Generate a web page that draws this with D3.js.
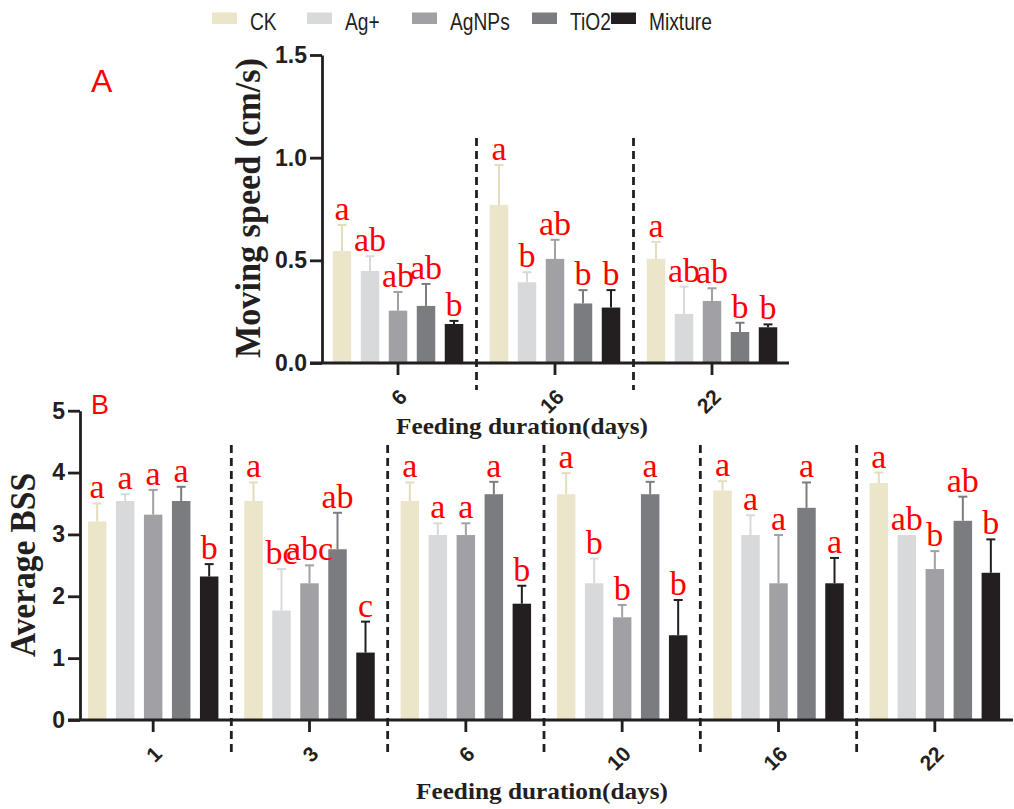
<!DOCTYPE html>
<html><head><meta charset="utf-8">
<script src="https://cdn.jsdelivr.net/npm/d3@7"></script>
<style>body{margin:0;background:#fff}svg{display:block}</style>
</head><body>
<svg id="chart" width="1014" height="809"></svg>
<script>
// ---------- DATA ----------
const series = ["CK", "Ag+", "AgNPs", "TiO2", "Mixture"];
const seriesColors = ["#ebe6c9", "#d8d9db", "#a1a1a5", "#7b7c80", "#231f20"];

// Panel A: moving speed (cm/s)
const speedDays = ["6", "16", "22"];
const speedMean = [
  [0.545, 0.448, 0.255, 0.278, 0.190],
  [0.770, 0.393, 0.507, 0.290, 0.270],
  [0.507, 0.239, 0.302, 0.151, 0.174]
];
const speedSD = [
  [0.127, 0.072, 0.091, 0.107, 0.015],
  [0.194, 0.049, 0.093, 0.065, 0.085],
  [0.083, 0.133, 0.062, 0.045, 0.014]
];
const speedLetters = [
  ["a", "ab", "ab", "ab", "b"],
  ["a", "b", "ab", "b", "b"],
  ["a", "ab", "ab", "b", "b"]
];
const speedTicks = [0, 0.5, 1.0, 1.5];

// Panel B: average BSS
const bssDays = ["1", "3", "6", "10", "16", "22"];
const bssMean = [
  [3.21, 3.54, 3.32, 3.54, 2.32],
  [3.54, 1.77, 2.21, 2.76, 1.09],
  [3.54, 2.99, 2.99, 3.65, 1.88],
  [3.65, 2.21, 1.66, 3.65, 1.37],
  [3.71, 2.99, 2.21, 3.43, 2.21],
  [3.83, 2.99, 2.44, 3.22, 2.38]
];
const bssSD = [
  [0.29, 0.11, 0.40, 0.23, 0.20],
  [0.30, 0.67, 0.29, 0.59, 0.50],
  [0.30, 0.19, 0.19, 0.20, 0.29],
  [0.34, 0.40, 0.20, 0.20, 0.57],
  [0.15, 0.32, 0.78, 0.41, 0.41],
  [0.17, 0.00, 0.29, 0.39, 0.54]
];
const bssLetters = [
  ["a", "a", "a", "a", "b"],
  ["a", "bc", "abc", "ab", "c"],
  ["a", "a", "a", "a", "b"],
  ["a", "b", "b", "a", "b"],
  ["a", "a", "a", "a", "a"],
  ["a", "ab", "b", "ab", "b"]
];
const bssTicks = [0, 1, 2, 3, 4, 5];

// ---------- DRAWING ----------
const svg = d3.select("#chart");
const SANS = "'Liberation Sans', Arial, Helvetica, sans-serif";
const SERIF = "'Liberation Serif', 'Times New Roman', Times, serif";

function drawPanel(o) {
  const g = svg.append("g");
  const x0 = d3.scaleBand().domain(o.days).range(o.xRange);
  const groupW = 130.5;
  const x1 = d3.scaleBand().domain(series).range([0, groupW]).paddingInner(0.34);
  const off = (x0.bandwidth() - groupW) / 2;
  const y = d3.scaleLinear().domain(o.yDomain).range(o.yRange);

  // dashed separators
  o.days.slice(1).forEach(d => {
    g.append("line")
      .attr("x1", x0(d)).attr("x2", x0(d))
      .attr("y1", o.dashTop).attr("y2", o.dashBottom)
      .attr("stroke", "#231f20").attr("stroke-width", 2.8)
      .attr("stroke-dasharray", "8,5");
  });

  // bars
  const rows = [];
  o.days.forEach((d, i) => series.forEach((s, j) => rows.push({
    day: d, s, j, mean: o.mean[i][j], sd: o.sd[i][j], letter: o.letters[i][j]
  })));
  const cx = r => x0(r.day) + off + x1(r.s) + x1.bandwidth() / 2;

  g.selectAll("rect.bar").data(rows).join("rect")
    .attr("class", "bar")
    .attr("x", r => x0(r.day) + off + x1(r.s))
    .attr("width", x1.bandwidth())
    .attr("y", r => y(r.mean))
    .attr("height", r => y(0) - y(r.mean))
    .attr("fill", r => seriesColors[r.j]);

  // error bars (upper only)
  const eb = g.selectAll("g.err").data(rows.filter(r => r.sd > 0)).join("g").attr("class", "err")
    .attr("stroke", r => r.j === 0 ? "#e3ddbd" : seriesColors[r.j]).attr("stroke-width", 2);
  eb.append("line").attr("x1", cx).attr("x2", cx)
    .attr("y1", r => y(r.mean)).attr("y2", r => y(r.mean + r.sd));
  eb.append("line").attr("x1", r => cx(r) - 4.5).attr("x2", r => cx(r) + 4.5)
    .attr("y1", r => y(r.mean + r.sd)).attr("y2", r => y(r.mean + r.sd));

  // letters
  g.selectAll("text.sig").data(rows).join("text")
    .attr("class", "sig")
    .attr("x", cx)
    .attr("y", r => y(r.mean + r.sd) - 5)
    .attr("text-anchor", "middle")
    .attr("fill", "#ff0000")
    .style("font-family", SERIF).style("font-size", "34px")
    .text(r => r.letter);

  // y axis
  const ya = g.append("g").attr("transform", `translate(${o.axisX},0)`)
    .call(d3.axisLeft(y).tickValues(o.ticks).tickFormat(o.fmt).tickSize(12).tickSizeOuter(0).tickPadding(3));
  ya.select(".domain").attr("stroke", "#231f20").attr("stroke-width", 2.8);
  ya.selectAll(".tick line").attr("stroke", "#231f20").attr("stroke-width", 2.8);
  ya.selectAll(".tick text").attr("fill", "#231f20")
    .style("font-family", SANS).style("font-size", "23px").style("font-weight", "bold");

  // x axis
  const xa = g.append("g").attr("transform", `translate(0,${y(0)})`)
    .call(d3.axisBottom(x0).tickSize(12).tickSizeOuter(0));
  xa.select(".domain").remove();
  xa.selectAll(".tick line").attr("stroke", "#231f20").attr("stroke-width", 2.8);
  xa.selectAll(".tick text")
    .attr("y", 0).attr("dy", "0.35em")
    .attr("text-anchor", "end")
    .attr("transform", "translate(5,30) rotate(-45)")
    .attr("fill", "#231f20")
    .style("font-family", SANS).style("font-size", "21px").style("font-weight", "bold");
  g.append("line")
    .attr("x1", o.axisX - 12).attr("x2", o.axisEnd)
    .attr("y1", y(0)).attr("y2", y(0))
    .attr("stroke", "#231f20").attr("stroke-width", 2.8);

  // titles
  g.append("text")
    .attr("transform", `translate(${o.yTitleX},${o.yTitleY}) rotate(-90)`)
    .attr("text-anchor", "middle").attr("dy", "0.35em")
    .attr("textLength", o.yTitleLen).attr("lengthAdjust", "spacingAndGlyphs")
    .attr("fill", "#231f20")
    .style("font-family", SERIF).style("font-size", "35px").style("font-weight", "bold")
    .text(o.yTitle);
  g.append("text")
    .attr("x", o.xTitleX).attr("y", o.xTitleY)
    .attr("text-anchor", "middle")
    .attr("textLength", 252).attr("lengthAdjust", "spacingAndGlyphs")
    .attr("fill", "#231f20")
    .style("font-family", SERIF).style("font-size", "24px").style("font-weight", "bold")
    .text("Feeding duration(days)");
  g.append("text")
    .attr("x", o.labelX).attr("y", o.labelY)
    .attr("fill", "#ff0000")
    .style("font-family", SANS).style("font-size", o.labelSize)
    .text(o.label);
}

drawPanel({
  days: speedDays, mean: speedMean, sd: speedSD, letters: speedLetters,
  ticks: speedTicks, fmt: d3.format(".1f"), yDomain: [0, 1.5], yRange: [363, 55],
  xRange: [319.5, 790.5], axisX: 322, axisEnd: 789,
  dashTop: 138, dashBottom: 390,
  yTitle: "Moving speed (cm/s)", yTitleX: 248, yTitleY: 208, yTitleLen: 300,
  xTitleX: 522, xTitleY: 434,
  label: "A", labelX: 91, labelY: 92, labelSize: "32px"
});

drawPanel({
  days: bssDays, mean: bssMean, sd: bssSD, letters: bssLetters,
  ticks: bssTicks, fmt: d3.format("d"), yDomain: [0, 5], yRange: [720, 410.7],
  xRange: [75, 1013], axisX: 80, axisEnd: 1013,
  dashTop: 445, dashBottom: 752,
  yTitle: "Average BSS", yTitleX: 23, yTitleY: 565, yTitleLen: 184,
  xTitleX: 542, xTitleY: 799,
  label: "B", labelX: 91, labelY: 414, labelSize: "27px"
});

// legend
const legendX = [212, 307, 412, 532, 611];
const leg = svg.append("g").selectAll("g").data(series).join("g")
  .attr("transform", (d, i) => `translate(${legendX[i]},0)`);
leg.append("rect").attr("x", 0).attr("y", 12.5).attr("width", 25).attr("height", 11.5)
  .attr("fill", (d, i) => seriesColors[i]);
leg.append("text").attr("x", 38).attr("y", 30)
  .attr("fill", "#231f20")
  .style("font-family", SANS).style("font-size", "24px")
  .each(function (d) {
    const t = d3.select(this).text(d);
    const w = this.getComputedTextLength();
    t.attr("textLength", w * 0.8).attr("lengthAdjust", "spacingAndGlyphs");
  });
</script>
</body></html>
